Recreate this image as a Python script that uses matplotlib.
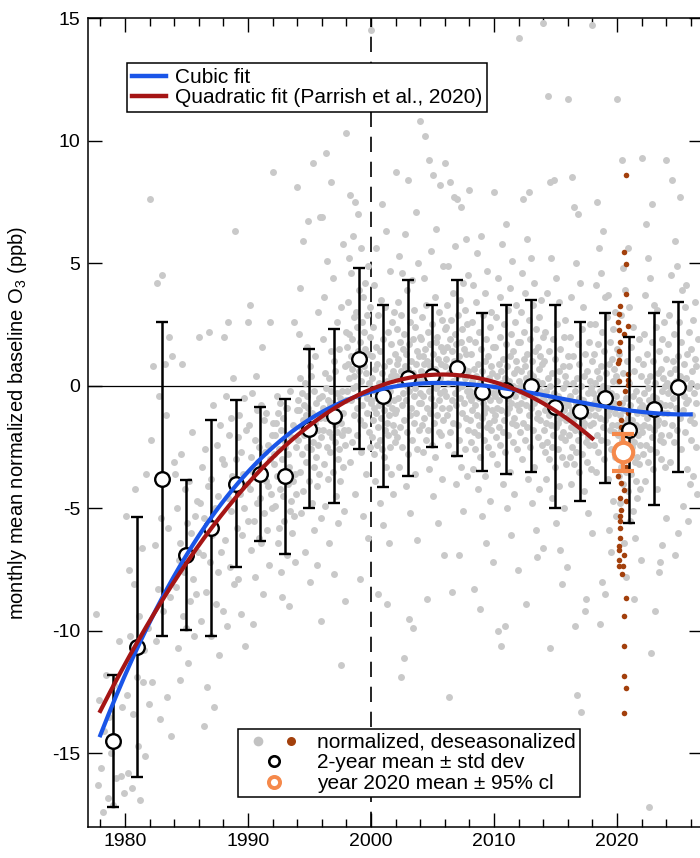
import numpy as np
import matplotlib
matplotlib.use("Agg")
import matplotlib.pyplot as plt
from matplotlib.lines import Line2D
from matplotlib.legend_handler import HandlerTuple
from matplotlib.ticker import MultipleLocator

plt.rcParams['font.family'] = ['Liberation Sans', 'DejaVu Sans']
plt.rcParams['mathtext.fontset'] = 'custom'
plt.rcParams['mathtext.rm'] = 'Liberation Sans'
plt.rcParams['axes.unicode_minus'] = False
plt.rcParams['lines.scale_dashes'] = False

# gray cloud: normalized, deseasonalized monthly values, one list per 2-year bin
gray_edges = [1977.6] + list(range(1980, 2025, 2)) + [2026.6]
g1979 = [-9.3, -16.3, -12.8, -15.6, -17.4, -14.1, -11.8, -16.8, -13.5, -15.0, -17.1, -12.2, -16.0, -14.6, -10.4, -15.9, -13.1, -16.6]
g1981 = [-5.3, -12.6, -15.8, -7.5, -10.2, -16.4, -13.4, -8.1, -4.2, -11.9, -14.7, -9.4, -16.9, -6.6, -12.1, -10.8, -15.1, -3.6, -9.9, -13.0]
g1983 = [7.6, -2.2, -12.1, 0.8, -6.5, -10.4, 4.2, -8.3, -0.4, -13.6, -5.4, 4.5, -9.2, 0.9, -1.2, -12.7, -5.8, 2.0, -8.6, -14.3, 1.2, -3.1]
g1985 = [-3.6, -8.2, -5.0, -10.7, -7.1, -6.4, -12.0, -2.8, 0.9, -9.4, -7.6, -4.2, -9.9, -5.6, -11.3, -3.9, -8.8, -6.0, -1.9, -7.9, -10.2, -5.3, -8.5, -4.7, -6.8]
g1987 = [2.0, -4.8, -9.6, -3.3, -6.9, -13.9, -5.4, -2.6, -8.4, -12.3, -4.1, 2.2, -7.2, -3.8, -10.2, -6.1, -0.8, -13.1, -5.0, -8.9, -2.4, -7.6, -4.5, -11.0, -1.6, -6.8, -3.0, -9.2]
g1989 = [2.0, -3.2, -6.3, -0.4, -9.8, -4.6, 2.6, -2.0, -7.4, -5.1, -1.3, -3.7, 0.3, -8.1, -4.2, 6.3, -3.0, -5.8, -2.1, -7.9, -1.2, -4.4, -9.3, -2.7, -6.1, -3.6, -0.5, -5.0, -10.6, -1.8, -4.0, -5.5]
g1991 = [2.6, -1.6, -4.2, 3.3, -6.7, -2.9, -0.3, -9.7, -3.5, -5.5, -2.2, -7.8, 0.4, -4.8, -1.0, -3.1, -6.2, -2.5, -4.6, -0.8, -6.4, 1.6, -3.3, -8.5, -1.4, -5.2, -2.7, -3.9, -1.1, -5.9, -2.4, -4.1, -7.3, -3.0, 2.6, -4.4, -5.0, -2.0]
g1993 = [8.7, -1.5, -3.2, -2.8, -2.0, -4.9, -1.5, -0.4, -3.7, -6.4, -1.1, -2.6, -5.8, -0.7, -4.2, -1.8, -7.6, -3.0, -8.6, -4.5, -1.3, -5.5, -2.3, -2.5, -0.9, -3.5, -0.9, -6.9, -4.0, -2.8, -9.0, -3.3, -5.1, -0.2, -4.7, -2.1, -6.0, -3.9, -1.6, -5.3, 2.6, -3.6, -7.2, -2.5, -4.4, -1.0]
g1995 = [8.1, -0.6, -2.2, 2.1, -1.0, -3.5, 4.0, 0.3, -1.7, -5.2, -0.3, -2.8, 5.9, -1.4, -4.3, -0.8, -2.0, -6.8, 0.1, -1.2, -3.1, -0.4, 1.6, -2.5, -0.9, 6.7, -1.6, -3.9, 0.8, -8.0, -1.9, -2.6, 0.4, -1.1, -4.8, -2.3, 9.1, -0.2, -3.3, -5.9, 1.2, -1.5, -2.9, -0.7, -4.1, -7.3, -1.8, 3.0, -2.4, -0.5, -3.6, 6.9, -1.3, -5.4, -2.1, -9.6]
g1997 = [6.9, -0.4, -1.8, 1.9, -0.9, -3.2, 3.6, 0.5, -1.3, -4.9, 9.5, -0.1, -2.5, 5.1, -1.0, -3.8, -0.6, -1.9, -6.4, 0.3, -0.8, -2.7, 8.3, -0.2, 1.4, -2.1, -0.7, 4.4, -1.4, -3.5, 1.0, -7.7, -1.6, -2.3, 0.6, -0.9, -4.5, -1.9, 2.6, -0.3, -3.0, -5.6, 1.5, -1.2, -2.6, -0.5, -3.9, -11.4, -1.5, 3.2, -2.0, -0.2, -3.3, 5.8, -1.1, -5.1, -1.8, -8.8, 0.8, -2.4, -0.6, 2.2]
g1999 = [10.3, 1.6, -0.2, 3.4, 0.9, -1.8, 5.2, 2.1, 0.3, -3.1, 7.8, 1.2, -0.6, 4.6, 1.9, -2.3, 0.7, -0.1, 6.1, 2.8, -1.2, 0.4, 7.5, 1.1, -4.4, 3.0, 0.0, -0.9, 2.4, -2.0, 7.0, 1.4, -0.4, 3.9, 0.6, -7.9, 1.8, -1.4, 5.6, 0.2, -2.7, 2.6, -0.8, 1.0, -5.3, 3.6, 0.8, -1.6, 2.2, -0.3, 4.2, 1.5, -3.6, 0.5, -1.1, 2.9, -0.5, -6.2, 1.3, 4.9, -1.9, 0.1, 2.0, -2.5, 3.2, -0.7]
g2001 = [14.5, -0.6, 1.2, -2.1, 0.3, -1.4, 2.4, -0.9, 4.1, -2.8, 0.7, -0.2, -3.9, 1.6, -1.1, 5.6, -0.5, -2.4, 0.9, -8.5, -1.7, 2.9, 0.1, -0.8, -4.8, 1.4, -2.2, 3.5, -0.3, -1.3, 7.4, 0.5, -2.6, -0.1, -5.7, 1.9, -1.0, -2.9, 0.8, 3.2, -1.8, -0.4, 6.3, -3.3, 0.2, -1.5, -8.9, 2.2, -0.7, -2.0, 1.0, -6.4, -1.2, 4.7, -0.2, -2.5, 1.7, -3.6, 0.4, -0.9, 2.6, -1.6, -4.4, 0.6, -1.9, 3.0, -0.6, -2.3, 1.3, -1.1]
g2003 = [8.7, 0.4, -1.0, 2.3, 0.9, -2.1, 3.4, 1.1, -0.5, -3.3, 5.3, 0.1, -1.7, 1.8, -11.9, 0.6, 2.9, -0.8, 4.6, -2.5, 0.2, 1.5, -0.3, -11.1, 2.1, -1.4, 0.8, 6.2, -0.6, -4.1, 1.3, -1.9, 3.9, 0.0, -2.8, 8.4, 0.7, -9.5, 1.7, -0.2, 2.6, -1.2, -5.2, 0.3, 1.0, -0.9, 4.3, -2.2, -9.9, 1.9, 0.5, -1.5, 3.1, -0.4, -3.6, 2.4, -0.1, 7.1, -1.1, 0.9, -6.3, 1.4, -2.6, 0.2, 5.0, -0.7, 1.2, -1.8, 2.0, -0.3]
g2005 = [10.8, 0.6, -0.7, 1.9, 0.2, -1.6, 2.8, 1.2, -0.4, -2.7, 4.4, 0.9, -1.3, 10.2, 1.5, -2.2, 0.3, 3.3, -0.9, -8.7, 1.0, -1.8, 2.2, 0.5, 9.2, -0.2, -3.4, 1.7, 0.8, -1.1, 5.5, -0.5, 2.5, -2.4, 0.1, -4.5, 1.3, 8.6, -0.8, 0.4, -1.5, 3.6, 0.7, -2.9, 1.8, -0.1, 6.4, -1.2, 0.0, 2.0, -5.6, 1.1, -0.6, 3.0, -1.9, 0.3, 8.2, -0.3, 1.6, -2.0, 0.9, -3.8, 2.7, -0.9, 4.9, -1.4, 1.4, -0.2, -6.9, 2.3]
g2007 = [9.1, 0.8, -0.4, 2.4, 1.1, -1.2, 3.3, 1.6, 0.1, -2.4, 4.9, 0.5, -12.7, -0.9, 8.3, 1.9, -1.9, 0.6, 2.7, -0.6, -8.4, 1.4, -1.5, 3.8, 0.2, 7.7, -2.8, 1.0, -0.3, 2.1, 5.7, -0.8, -4.0, 1.7, 0.4, 7.6, -1.6, 2.9, -0.1, -6.9, 1.2, -2.2, 0.9, 3.5, -0.5, 7.3, -3.3, 1.8, 0.0, 2.3, -1.1, 4.2, -5.1, 0.7, 1.5, -0.7, -2.6, 3.1, 0.3, 6.0, -1.3, 1.3, -0.2, -3.7, 2.5, 0.6, -1.8, 4.5, -0.4, 1.9]
g2009 = [8.0, -0.2, -1.4, 1.3, -0.6, -2.3, 2.6, 0.2, -1.0, -3.4, 4.1, -0.4, -1.9, 0.7, -8.3, -0.8, 1.8, -2.6, 3.4, 0.4, -1.2, -0.1, 5.4, -2.0, 0.9, -4.2, -0.5, 2.2, -1.6, -9.1, 0.1, -2.9, 1.5, -0.3, 6.1, -1.3, -5.3, 0.6, -0.7, 2.9, -2.2, 0.0, -1.1, 3.8, -3.7, 1.0, -0.9, -6.4, 1.9, -0.4, -1.7, 4.7, -0.2, -2.5, 1.2, -1.5, 0.3, -4.7, 2.4, -0.6, -1.8, 0.8, 3.0, -1.0, -2.8, 0.5, -0.3, -7.2, 1.6, -1.4]
g2011 = [7.9, 0.0, -1.2, 1.6, -0.4, -2.1, 2.8, 0.4, -0.9, -3.2, 4.4, -0.2, -10.0, -1.7, 0.9, -0.6, 2.0, -2.4, 3.6, 0.6, -1.0, -10.6, 0.1, 5.8, -1.9, 1.1, -4.0, -0.3, 2.5, -1.4, -9.8, 0.3, -2.7, 1.7, -0.1, 6.6, -1.1, -5.0, 0.8, -0.5, 3.1, -2.0, 0.2, -0.9, 4.0, -3.5, 1.2, -0.7, -6.1, 2.1, -0.2, -1.5, 5.1, 0.0, -2.3, 1.4, -1.3, 0.5, -4.4, 2.6, -0.4, -1.6, 1.0, 3.3, -0.8, -2.6, 0.7, -0.1, -7.5, 1.8]
g2013 = [14.2, 0.2, -1.0, 1.8, -0.2, -1.9, 3.0, 0.6, -0.7, -3.0, 4.6, 0.0, -1.5, 7.6, 1.1, -0.4, 2.2, -2.2, 3.8, 0.8, -8.9, -0.8, 0.3, 6.0, -1.7, 1.3, -3.8, -0.1, 2.7, -1.2, 7.9, 0.5, -2.5, 1.9, 0.1, 5.2, -0.9, -4.8, 1.0, -0.3, 3.3, -1.8, 0.4, -0.7, 4.2, -3.3, 1.4, -0.5, -5.9, 2.3, 0.0, -1.3, -7.0, 0.2, -2.1, 1.6, -1.1, 0.7, -4.2, 2.8, -0.2, -1.4, 1.2, 3.5, -0.6, -2.4, 0.9, 0.1, -6.6, 2.0]
g2015 = [14.8, -0.6, -1.8, 1.0, -1.0, -2.7, 2.2, -0.2, -1.5, -3.8, 3.8, -0.8, -2.3, 11.8, 0.3, -1.2, 1.4, -3.0, 8.3, 0.0, -10.7, -1.6, -0.5, 5.2, -2.5, 0.5, -4.6, -0.9, 1.9, -2.0, 8.4, -0.3, -3.3, 1.1, -0.7, 4.4, -1.7, -5.6, 0.2, -1.1, 2.5, -2.6, -0.4, -1.5, 3.4, -4.1, 0.6, -1.3, -6.7, 1.5, -0.8, -2.1, -8.1, -0.6, -2.9, 0.8, -1.9, -0.1, -5.0, 2.0, -1.0, -2.2, 0.4, 2.7, -1.4, -3.2, 0.1, -0.7, -7.4, 1.2]
g2017 = [11.7, -0.8, -2.0, 0.8, -1.2, -2.9, 2.0, -0.4, -1.7, -4.0, 3.6, -1.0, -2.5, 8.5, 0.1, -1.4, 1.2, -3.2, 7.3, -0.2, -9.8, -1.8, -0.7, 5.0, -2.7, 0.3, -12.6, -1.1, 1.7, -2.2, 7.0, -0.5, -3.5, 0.9, -0.9, 4.2, -1.9, -13.3, 0.0, -1.3, 2.3, -2.8, -0.6, -1.7, 3.2, -4.3, 0.4, -1.5, -9.2, 1.3, -1.0, -2.3, -8.7, -0.8, -3.1, 0.6, -2.1, -0.3, -5.2, 1.8, -1.2, -2.4, 0.2, 2.5, -1.6, -3.4, -0.1, -0.9, -6.0, 1.0]
g2019 = [14.7, -0.3, -1.5, 1.3, -0.7, -2.4, 2.5, 0.1, -1.2, -3.5, 4.1, -0.5, -2.0, 7.5, 0.6, -0.9, 1.7, -2.7, 5.6, 0.3, -9.7, -1.3, -0.2, 4.6, -2.2, 0.8, -8.0, -0.6, 2.2, -1.7, 6.3, 0.0, -3.0, 1.4, -0.4, 3.6, -1.4, -8.5, 0.5, -0.8, 2.8, -2.3, -0.1, -1.2, 3.7, -3.8, 0.9, -1.0, -5.9, 1.8, -0.5, -1.8, -6.8, -0.3, -2.6, 1.1, -1.6, 0.2, -4.7, 2.3, -0.7, -1.9, 0.7, 3.0, -1.1, -2.9, 0.4, -0.4, -5.3, 1.5]
g2021 = [11.7, -1.6, -2.8, 0.2, -2.0, -3.7, 1.3, -1.2, -2.5, -4.8, 2.9, -1.8, -3.3, 9.2, -0.7, -2.2, 0.5, -4.0, 4.8, -1.0, -6.4, -2.6, -1.5, 3.9, -3.5, -0.5, -7.8, -1.9, 1.0, -3.0, 5.6, -1.3, -4.3, 0.1, -1.7, 3.2, -2.7, -5.5, -0.8, -2.1, 1.6, -3.6, -1.4, -2.5, 2.4, -5.1, -0.4, -2.3, -8.7, 0.6, -1.8, -3.1, -6.2, -1.6, -3.9, -0.2, -2.9, -1.1, -4.6, 1.1, -2.0, -3.2, -0.6, 1.9, -2.4, -4.2, -0.9, -1.7, -7.1, 0.4]
g2023 = [9.3, -0.8, -1.9, 0.9, -1.1, -2.8, 2.1, -0.3, -1.6, -3.9, 3.7, -0.9, -2.4, 6.6, 0.2, -1.3, 1.3, -3.1, 5.2, -0.1, -17.2, -1.7, -0.6, 4.4, -2.6, 0.4, -10.9, -1.0, 1.8, -2.1, 7.4, -0.4, -3.4, 1.0, -0.8, 3.3, -1.8, -9.2, 0.1, -1.2, 2.4, -2.7, -0.5, -1.6, 3.1, -4.2, 0.5, -1.4, -7.6, 1.4, -0.9, -2.2, -7.2, -0.7, -3.0, 0.7, -2.0, -0.2, -6.5, 1.9, -1.1, -2.3, 0.3, 2.6, -1.5, -3.3, 0.0, -0.8, -5.4, 1.1]
g2025 = [9.2, 0.1, -1.1, 1.7, -0.3, -2.0, 2.9, 0.5, -0.8, -3.1, 4.5, -0.1, -1.6, 8.4, 1.0, -0.5, 2.1, -2.3, 5.9, 0.7, -6.9, -0.9, 0.2, 4.9, -1.8, 1.2, -6.0, -0.2, 2.6, -1.3, 7.7, 0.4, -2.6, 1.8, 0.0, 3.9, -1.0, -4.9, 0.9, -0.4, 3.2, -1.9, 0.3, -0.7, 4.1, -3.4, 1.3, -0.6, -5.5, 2.2, -0.1, -1.4, -4.0, 0.1, -2.2, 1.5, -1.2, 0.6, -3.7, 2.7, -0.3, -1.5, 1.1, 3.4, -0.7, -2.5, 0.8, 0.0, -4.4, 1.9]
gray_bins = [g1979, g1981, g1983, g1985, g1987, g1989, g1991, g1993, g1995, g1997, g1999, g2001,
             g2003, g2005, g2007, g2009, g2011, g2013, g2015, g2017, g2019, g2021, g2023, g2025]

# year 2020 values (brown)
brown_x = [2020.7, 2020.6, 2020.7, 2020.7, 2020.25, 2020.15, 2020.1, 2020.9, 2020.15, 2020.6, 2020.25,
           2020.15, 2020.15, 2020.1, 2020.9, 2020.9, 2020.2, 2020.9, 2020.65, 2020.15, 2020.9, 2020.35,
           2020.3, 2020.6, 2020.2, 2020.8, 2020.4, 2020.7, 2020.1, 2020.35, 2020.55, 2020.25, 2020.7,
           2020.3, 2020.25, 2020.25, 2020.25, 2020.25, 2020.2, 2020.15, 2020.6, 2020.2, 2020.2, 2020.5,
           2020.45, 2020.75, 2020.55, 2020.55, 2020.55, 2020.7, 2020.55]
brown_y = [8.6, 5.47, 4.96, 3.74, 3.26, 2.92, 2.58, 2.42, 2.28, 2.12, 1.77,
           1.40, 1.03, 0.92, 0.49, 0.24, 0.18, 0.04, -0.23, -0.71, -1.11, -1.39,
           -1.7, -2.0, -2.4, -2.6, -3.0, -3.3, -3.70, -3.97, -4.24, -4.58, -4.72,
           -5.06, -5.33, -5.53, -5.80, -6.21, -6.55, -6.71, -6.89, -7.09, -7.37, -7.37,
           -7.70, -8.66, -9.40, -10.60, -11.85, -12.32, -13.34]

# 2-year means and standard deviations
mean_years = list(range(1979, 2026, 2))
mean_vals = [-14.5, -10.65, -3.8, -6.9, -5.8, -4.0, -3.6, -3.7, -1.75, -1.25, 1.1, -0.42,
             0.3, 0.4, 0.73, -0.27, -0.16, 0.0, -0.85, -1.05, -0.5, -1.8, -0.95, -0.05]
mean_sd = [2.7, 5.3, 6.4, 3.05, 4.4, 3.4, 2.75, 3.17, 3.25, 3.55, 3.7, 3.72,
           4.0, 2.9, 3.6, 3.22, 3.45, 3.5, 4.15, 3.65, 3.47, 3.8, 3.93, 3.48]

# year 2020 mean with 95% confidence limit
y2020_x = 2020.5
y2020_mean = -2.72
y2020_cl = 0.77

# points
cubic_years = [1978.07, 1981.06, 1982.95, 1984.98, 1987.02, 1989.05, 1991.1, 1993.1, 1995.1,
               1997.1, 1999.95, 2000.7, 2006.2, 2008.9, 2012.9, 2017.0, 2020.2, 2025.7]
cubic_vals = [-14.27, -10.42, -8.72, -6.96, -5.46, -4.04, -3.02, -2.12, -1.39,
              -0.77, -0.16, -0.08, 0.12, 0.05, -0.35, -0.69, -0.97, -1.14]
quad_years = [1978.07, 1981.06, 1982.95, 1984.98, 1987.02, 1989.05, 1991.1, 1993.1, 1995.1,
              1997.1, 1999.95, 2006.15, 2012.9, 2015.9, 2018.0]
quad_vals = [-13.14, -10.5, -8.9, -7.3, -5.8, -4.44, -3.3, -2.3, -1.6,
             -0.98, -0.24, 0.46, -0.5, -1.3, -2.1]

gray = '#c9c9c9'
brown = '#a3400c'
orange = '#f5894b'
blue = '#1a55e8'
red = '#a51515'

fig = plt.figure(figsize=(7, 8.58), dpi=100)
ax = fig.add_axes([88 / 700, 31 / 858, 615 / 700, 809 / 858])
ax.set_xlim(1977, 2027)
ax.set_ylim(-18, 15)

ax.axhline(0, color='black', lw=0.9, zorder=1)
ax.axvline(2000, color='black', lw=1.2, linestyle=(0, (11, 7)), zorder=1)

for start, end, vals in zip(gray_edges[:-1], gray_edges[1:], gray_bins):
    n = len(vals)
    xs = start + (np.arange(n) + 0.5) * (end - start) / n
    ax.scatter(xs, vals, s=25, color=gray, linewidths=0, zorder=2)

ax.scatter(brown_x, brown_y, s=16, color=brown, linewidths=0, zorder=3)

ax.errorbar(mean_years, mean_vals, yerr=mean_sd, fmt='o', ms=10.5, mfc='white', mec='black',
            mew=1.7, ecolor='black', elinewidth=1.8, capsize=4.5, capthick=1.8, zorder=4)

tc = np.linspace(1978, 2026, 300)
cub = np.polyfit(np.array(cubic_years) - 2000, cubic_vals, 3)
ax.plot(tc, np.polyval(cub, tc - 2000), color=blue, lw=3, zorder=5)
tq = np.linspace(1978, 2018, 300)
quad = np.polyfit(np.array(quad_years) - 2000, quad_vals, 2)
ax.plot(tq, np.polyval(quad, tq - 2000), color=red, lw=3, zorder=5)

ax.errorbar([y2020_x], [y2020_mean], yerr=[y2020_cl], fmt='o', ms=14, mfc='white', mec=orange,
            mew=3, ecolor=orange, elinewidth=3, capsize=8, capthick=3, zorder=7)

ax.xaxis.set_major_locator(MultipleLocator(10))
ax.xaxis.set_minor_locator(MultipleLocator(2))
ax.yaxis.set_major_locator(MultipleLocator(5))
ax.tick_params(which='both', direction='in', top=True, right=True, labelsize=14, width=1.0)
ax.tick_params(which='major', length=10)
ax.tick_params(which='minor', length=5.5)
ax.tick_params(axis='y', pad=5.5)
ax.tick_params(axis='x', pad=4)
for sp in ax.spines.values():
    sp.set_linewidth(1.1)

ax.set_ylabel('monthly mean normalized baseline O$_\\mathregular{3}$ (ppb)', fontsize=14.5)
ax.yaxis.set_label_coords(-0.096, 0.5)

h_cubic = Line2D([], [], color=blue, lw=3.2)
h_quad = Line2D([], [], color=red, lw=3.2)
leg1 = ax.legend([h_cubic, h_quad], ['Cubic fit', 'Quadratic fit (Parrish et al., 2020)'],
                 loc='upper left', bbox_to_anchor=(0.0634, 0.9444), fontsize=15, fancybox=False,
                 edgecolor='black', framealpha=1, handlelength=1.6, handletextpad=0.45,
                 labelspacing=0.03, borderpad=0.25, borderaxespad=0)
leg1.get_frame().set_linewidth(1.1)
ax.add_artist(leg1)

h_gray = Line2D([], [], ls='none', marker='o', ms=7, color='#c2c2c2', mec='none')
h_brown = Line2D([], [], ls='none', marker='o', ms=6.5, color=brown, mec='none')
h_mean = Line2D([], [], ls='none', marker='o', ms=7.5, mfc='white', mec='black', mew=1.9)
h_2020 = Line2D([], [], ls='none', marker='o', ms=8, mfc='white', mec=orange, mew=2.8)
leg2 = ax.legend([(h_gray, h_brown), h_mean, h_2020],
                 ['normalized, deseasonalized', '2-year mean \u00b1 std dev', 'year 2020 mean \u00b1 95% cl'],
                 handler_map={tuple: HandlerTuple(ndivide=None, pad=0)},
                 loc='lower left', bbox_to_anchor=(0.2439, 0.0371), fontsize=15, fancybox=False,
                 edgecolor='black', framealpha=1, handlelength=3.1, handletextpad=0.5,
                 labelspacing=0.07, borderpad=0.2, borderaxespad=0)
leg2.get_frame().set_linewidth(1.1)

fig.savefig('out.png', dpi=100)
